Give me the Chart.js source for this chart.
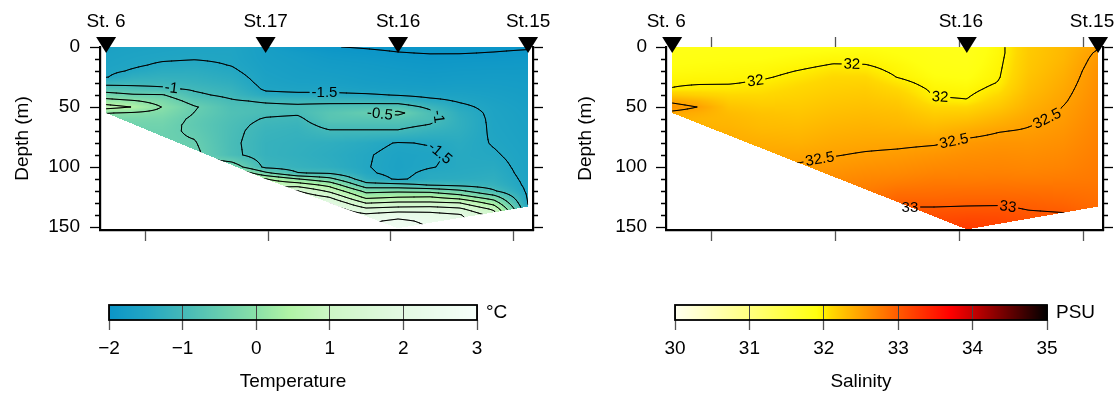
<!DOCTYPE html>
<html>
<head>
<meta charset="utf-8">
<script src="https://cdn.jsdelivr.net/npm/chart.js@4.4.0/dist/chart.umd.min.js"></script>
<style>
  body { margin: 0; background: #fff; width: 1118px; height: 394px; position: relative; overflow: hidden; }
  canvas { position: absolute; }
</style>
</head>
<body>
<canvas id="tSec" width="559" height="260" style="left:0;top:0;width:559px;height:260px"></canvas>
<canvas id="sSec" width="559" height="260" style="left:559px;top:0;width:559px;height:260px"></canvas>
<canvas id="tBar" width="559" height="104" style="left:0;top:290px;width:559px;height:104px"></canvas>
<canvas id="sBar" width="559" height="104" style="left:559px;top:290px;width:559px;height:104px"></canvas>
<script>
const FONT = "'Liberation Sans', Arial, Helvetica, sans-serif";

// section grid: distance of each profile column (km) and depth rows (m)
const colKm = [34, 45, 57, 70, 85, 99, 112, 125, 140, 153, 166, 178, 192, 206];
const rowDepth = [0, 5, 10, 15, 20, 25, 30, 35, 40, 45, 50, 55, 60, 65, 70, 80, 90, 100, 105, 110, 115, 120, 125, 130, 135, 140, 145, 150, 155];

// temperature (°C), one profile per column, values on rowDepth
const tempProfiles = [
  [-1.66,-1.64,-1.62,-1.6,-1.57,-1.52,-1.15,-0.75,-0.3,0.2,0.7,0.02,-0.25,-0.35,-0.4,-0.45,-0.45,-0.45,-0.45,-0.45,-0.45,-0.45,-0.45,-0.45,-0.45,-0.45,-0.45,-0.45,-0.45],
  [-1.63,-1.6,-1.57,-1.54,-1.47,-1.3,-1.12,-0.85,-0.45,0.05,0.48,-0.05,-0.25,-0.35,-0.4,-0.45,-0.45,-0.45,-0.45,-0.45,-0.45,-0.45,-0.45,-0.45,-0.45,-0.45,-0.45,-0.45,-0.45],
  [-1.6,-1.57,-1.53,-1.46,-1.36,-1.25,-1.12,-0.93,-0.47,-0.2,-0.02,-0.15,-0.28,-0.35,-0.4,-0.43,-0.45,-0.45,-0.45,-0.45,-0.45,-0.45,-0.45,-0.45,-0.45,-0.45,-0.45,-0.45,-0.45],
  [-1.58,-1.55,-1.51,-1.43,-1.35,-1.27,-1.18,-1.05,-0.92,-0.68,-0.46,-0.51,-0.58,-0.6,-0.57,-0.47,-0.4,-0.2,0.2,0.55,0.7,0.8,0.8,0.8,0.8,0.8,0.8,0.8,0.8],
  [-1.56,-1.55,-1.54,-1.51,-1.45,-1.38,-1.3,-1.2,-1.1,-0.95,-0.85,-0.82,-0.85,-0.88,-0.9,-0.92,-0.9,-0.2,0.6,1.02,1.2,1.3,1.3,1.3,1.3,1.3,1.3,1.3,1.3],
  [-1.72,-1.71,-1.7,-1.68,-1.66,-1.63,-1.6,-1.55,-1.4,-1.05,-0.9,-0.92,-1.03,-1.1,-1.15,-1.2,-1.2,-1.1,-0.4,0.52,0.9,1.1,1.2,1.2,1.2,1.2,1.2,1.2,1.2],
  [-1.9,-1.8,-1.76,-1.74,-1.72,-1.7,-1.66,-1.6,-1.42,-1.1,-0.92,-0.95,-1.08,-1.15,-1.2,-1.25,-1.27,-1.2,-0.98,0.02,0.8,1.52,1.9,1.98,1.98,1.98,1.98,1.98,1.98],
  [-1.99,-1.9,-1.84,-1.8,-1.76,-1.72,-1.68,-1.6,-1.42,-1.12,-0.85,-0.7,-0.72,-0.88,-1.03,-1.3,-1.35,-1.3,-1.05,-0.35,0.35,0.9,1.48,1.98,2.3,2.4,2.4,2.4,2.4],
  [-2.02,-1.95,-1.88,-1.83,-1.8,-1.77,-1.74,-1.67,-1.45,-1.15,-0.8,-0.52,-0.7,-0.88,-1.03,-1.4,-1.47,-1.48,-1.45,-1.3,-0.8,-0.15,0.35,0.98,1.6,2.1,2.4,2.52,2.55],
  [-2.05,-1.99,-1.92,-1.87,-1.83,-1.8,-1.76,-1.7,-1.52,-1.2,-0.75,-0.4,-0.7,-0.88,-1.03,-1.52,-1.6,-1.62,-1.6,-1.55,-0.85,-0.1,0.48,1.1,1.7,2.3,2.6,2.75,2.8],
  [-2.06,-2.01,-1.94,-1.9,-1.86,-1.82,-1.78,-1.72,-1.6,-1.4,-1.1,-0.88,-0.88,-1.02,-1.2,-1.48,-1.56,-1.52,-1.42,-1.38,-1.02,-0.15,0.52,1.1,1.75,2.2,2.4,2.48,2.48],
  [-2.06,-2.01,-1.93,-1.88,-1.84,-1.8,-1.76,-1.7,-1.62,-1.53,-1.42,-1.32,-1.28,-1.28,-1.3,-1.38,-1.42,-1.42,-1.4,-1.35,-1.1,-0.4,0.25,1.02,1.6,2.05,2.2,2.2,2.2],
  [-2.05,-1.99,-1.92,-1.87,-1.83,-1.79,-1.76,-1.72,-1.68,-1.64,-1.6,-1.58,-1.57,-1.56,-1.55,-1.52,-1.47,-1.4,-1.35,-1.3,-1.2,-0.95,-0.3,0.3,0.9,1.3,1.45,1.45,1.45],
  [-2.03,-1.96,-1.9,-1.86,-1.83,-1.8,-1.78,-1.76,-1.74,-1.72,-1.7,-1.68,-1.67,-1.66,-1.65,-1.63,-1.61,-1.6,-1.6,-1.58,-1.57,-1.56,-1.55,-1.52,-1.45,-1.4,-1.4,-1.4,-1.4]
];

// salinity (PSU), same layout
const salProfiles = [
  [31.85,31.86,31.88,31.9,31.92,31.95,31.985,32.005,32.2,32.45,32.6,32.45,32.4,32.4,32.4,32.4,32.4,32.4,32.4,32.4,32.4,32.4,32.4,32.4,32.4,32.4,32.4,32.4,32.4],
  [31.86,31.87,31.89,31.91,31.93,31.96,31.99,32.03,32.15,32.35,32.49,32.4,32.35,32.37,32.4,32.45,32.48,32.48,32.48,32.48,32.48,32.48,32.48,32.48,32.48,32.48,32.48,32.48,32.48],
  [31.87,31.88,31.9,31.92,31.94,31.96,31.99,32.04,32.1,32.18,32.25,32.3,32.33,32.35,32.38,32.42,32.47,32.52,32.55,32.58,32.6,32.62,32.64,32.66,32.68,32.7,32.7,32.7,32.7],
  [31.86,31.88,31.9,31.93,31.95,31.98,32.02,32.06,32.1,32.15,32.2,32.25,32.28,32.3,32.33,32.4,32.46,32.52,32.55,32.58,32.61,32.64,32.66,32.68,32.7,32.72,32.72,32.72,32.72],
  [31.87,31.9,31.93,31.96,32.005,32.04,32.08,32.11,32.14,32.17,32.2,32.23,32.26,32.29,32.32,32.38,32.46,32.52,32.56,32.6,32.63,32.66,32.68,32.7,32.72,32.74,32.74,32.74,32.74],
  [31.88,31.92,31.96,32.01,32.06,32.1,32.13,32.16,32.19,32.22,32.25,32.28,32.31,32.34,32.37,32.43,32.49,32.56,32.6,32.64,32.68,32.72,32.75,32.78,32.8,32.82,32.84,32.85,32.85],
  [31.9,31.93,31.96,32.005,32.05,32.1,32.14,32.18,32.21,32.24,32.27,32.3,32.33,32.36,32.39,32.45,32.52,32.6,32.64,32.68,32.72,32.76,32.8,32.84,32.87,32.9,32.92,32.93,32.93],
  [31.88,31.9,31.92,31.95,31.97,31.995,32.05,32.1,32.15,32.2,32.24,32.28,32.31,32.34,32.38,32.46,32.54,32.62,32.66,32.71,32.77,32.84,32.9,32.96,33.02,33.06,33.08,33.1,33.1],
  [31.84,31.85,31.86,31.87,31.89,31.91,31.94,31.97,31.99,32.03,32.1,32.17,32.23,32.29,32.35,32.48,32.58,32.66,32.7,32.75,32.8,32.85,32.9,32.96,33.02,33.08,33.13,33.16,33.18],
  [31.82,31.83,31.84,31.85,31.87,31.89,31.92,31.95,31.98,32.01,32.1,32.18,32.26,32.34,32.42,32.55,32.62,32.68,32.71,32.75,32.8,32.86,32.91,32.97,33.03,33.1,33.17,33.24,33.28],
  [31.95,31.95,31.96,31.97,31.98,31.99,32.01,32.05,32.1,32.16,32.22,32.29,32.36,32.42,32.49,32.58,32.64,32.69,32.72,32.76,32.81,32.86,32.91,32.97,33.04,33.1,33.15,33.18,33.2],
  [32.2,32.2,32.21,32.22,32.23,32.25,32.27,32.29,32.32,32.35,32.38,32.42,32.46,32.49,32.52,32.58,32.63,32.68,32.71,32.75,32.8,32.85,32.9,32.95,32.99,33.04,33.08,33.1,33.1],
  [32.32,32.33,32.34,32.36,32.38,32.4,32.42,32.44,32.46,32.48,32.505,32.52,32.54,32.56,32.58,32.62,32.66,32.7,32.73,32.76,32.8,32.84,32.88,32.92,32.97,33.02,33.05,33.05,33.05],
  [32.48,32.53,32.56,32.58,32.6,32.61,32.62,32.63,32.64,32.65,32.66,32.67,32.68,32.69,32.7,32.72,32.74,32.76,32.77,32.78,32.8,32.82,32.84,32.86,32.88,32.9,32.9,32.9,32.9]
];

// stations and sea floor
const tempStationNames = ['St. 6', 'St.17', 'St.16', 'St.15'];
const tempStationKm = [34, 99, 153, 206];
const salStationNames = ['St. 6', 'St.16', 'St.15'];
const salStationKm = [34, 153, 206];
const tempBottomKm = [34, 99, 153, 206];
const tempBottomDepth = [55, 110, 151, 133];
const salBottomKm = [34, 153, 206];
const salBottomDepth = [55, 152, 133];

// contour levels and label anchors [level, km, depth]
const tempLevels = [-2, -1.5, -1, -0.5, 0, 0.5, 1, 1.5, 2, 2.5];
const salLevels = [31.5, 32, 32.5, 33, 33.5];
const tempLabels = [[-1, 59, 34], [-1.5, 123, 38], [-0.5, 146, 54], [-1.5, 171, 85], [-1, 169.5, 58]];
const salLabels = [[32, 68, 29], [32, 106.6, 15], [32, 143.4, 43], [32.5, 93.6, 90], [32.5, 147, 80],
                   [32.5, 185.4, 58], [33, 130, 134], [33, 168, 133]];

// axes
const distTicks = [50, 100, 150, 200];
const depthTicks = [0, 50, 100, 150];
const tempBarTicks = [-2, -1, 0, 1, 2, 3];
const salBarTicks = [30, 31, 32, 33, 34, 35];

// colour scales
const tempStopValues = [-2, -1.5, -1, -0.5, 0, 0.45, 1, 2, 3];
const tempStopColors = ['#0b95c8', '#22a6c3', '#44b9b8', '#66cdb0', '#8ae0a8', '#b0f3a6', '#cdf6c6', '#e3f9e3', '#f6fffa'];
const salStopValues = [30, 31, 31.9, 32, 32.1, 32.5, 33, 33.7, 34, 35];
const salStopColors = ['#fffff0', '#ffff80', '#ffff10', '#fff200', '#ffd800', '#ffa000', '#ff5a00', '#ff0000', '#c80000', '#000000'];

function stops(values, colors) {
  return values.map((v, i) => [v, [1, 3, 5].map(k => parseInt(colors[i].slice(k, k + 2), 16))]);
}

function colorAt(st, v) {
  if (v <= st[0][0]) return st[0][1];
  for (let i = 0; i < st.length - 1; i++) {
    const [v0, c0] = st[i], [v1, c1] = st[i + 1];
    if (v <= v1) {
      const t = (v - v0) / (v1 - v0);
      return [0, 1, 2].map(k => Math.round(c0[k] + (c1[k] - c0[k]) * t));
    }
  }
  return st[st.length - 1][1];
}

function locate(arr, v) {
  if (v <= arr[0]) return [0, 0];
  for (let i = 0; i < arr.length - 1; i++) {
    if (v <= arr[i + 1]) return [i, (v - arr[i]) / (arr[i + 1] - arr[i])];
  }
  return [arr.length - 2, 1];
}

function makeField(profiles, bottomKm, bottomDepth) {
  const bottom = km => {
    const [i, t] = locate(bottomKm, km);
    return bottomDepth[i] * (1 - t) + bottomDepth[i + 1] * t;
  };
  return {
    value(km, d) {
      const [i, tx] = locate(colKm, km);
      const [j, ty] = locate(rowDepth, d);
      const a = profiles[i][j], b = profiles[i + 1][j];
      const c = profiles[i][j + 1], e = profiles[i + 1][j + 1];
      return (a * (1 - tx) + b * tx) * (1 - ty) + (c * (1 - tx) + e * tx) * ty;
    },
    inside(km, d) {
      return km >= bottomKm[0] && km <= bottomKm[bottomKm.length - 1] && d >= 0 && d <= bottom(km);
    }
  };
}

// marching squares
function contourSegments(V, gx, gy, lev) {
  const segs = [];
  const lerp = (p0, p1, v0, v1) => p0 + (p1 - p0) * (lev - v0) / (v1 - v0);
  for (let j = 0; j < gy.length - 1; j++) {
    for (let i = 0; i < gx.length - 1; i++) {
      const a = V[j][i], b = V[j][i + 1], c = V[j + 1][i + 1], d = V[j + 1][i];
      const idx = (a > lev ? 8 : 0) | (b > lev ? 4 : 0) | (c > lev ? 2 : 0) | (d > lev ? 1 : 0);
      if (idx === 0 || idx === 15) continue;
      const x0 = gx[i], x1 = gx[i + 1], y0 = gy[j], y1 = gy[j + 1];
      const T = () => [lerp(x0, x1, a, b), y0];
      const R = () => [x1, lerp(y0, y1, b, c)];
      const B = () => [lerp(x0, x1, d, c), y1];
      const L = () => [x0, lerp(y0, y1, a, d)];
      switch (idx) {
        case 1: case 14: segs.push([L(), B()]); break;
        case 2: case 13: segs.push([B(), R()]); break;
        case 3: case 12: segs.push([L(), R()]); break;
        case 4: case 11: segs.push([T(), R()]); break;
        case 6: case 9: segs.push([T(), B()]); break;
        case 7: case 8: segs.push([L(), T()]); break;
        default: {
          const hi = (a + b + c + d) / 4 > lev;
          if ((idx === 5) === hi) { segs.push([L(), T()]); segs.push([B(), R()]); }
          else { segs.push([T(), R()]); segs.push([L(), B()]); }
        }
      }
    }
  }
  return segs;
}

function sectionPlugin(cfg) {
  return {
    id: 'section',
    beforeDatasetsDraw(chart) {
      const { ctx, chartArea: ca } = chart;
      const xs = chart.scales.x, ys = chart.scales.y;
      const f = cfg.field;
      const F = (px, py) => f.value(xs.getValueForPixel(px), ys.getValueForPixel(py));

      // filled field
      const x0 = Math.floor(ca.left), y0 = Math.floor(ca.top);
      const w = Math.ceil(ca.right) - x0, h = Math.ceil(ca.bottom) - y0;
      const img = ctx.createImageData(w, h);
      for (let j = 0; j < h; j++) {
        const d = ys.getValueForPixel(y0 + j + 0.5);
        for (let i = 0; i < w; i++) {
          const km = xs.getValueForPixel(x0 + i + 0.5);
          if (!f.inside(km, d)) continue;
          const c = colorAt(cfg.colors, f.value(km, d));
          const k = (j * w + i) * 4;
          img.data[k] = c[0]; img.data[k + 1] = c[1]; img.data[k + 2] = c[2]; img.data[k + 3] = 255;
        }
      }
      const off = document.createElement('canvas');
      off.width = w; off.height = h;
      off.getContext('2d').putImageData(img, 0, 0);
      ctx.drawImage(off, x0, y0);

      // label positions: nearest point on the contour to each anchor
      ctx.font = '15px ' + FONT;
      const placed = cfg.labels.map(([lev, km, dep]) => {
        const cx = xs.getPixelForValue(km), cy = ys.getPixelForValue(dep);
        let best = null;
        for (let dy = -14; dy <= 14; dy++) {
          for (let dx = -14; dx <= 14; dx++) {
            const px = cx + dx, py = cy + dy;
            const v = F(px, py);
            const gxv = (F(px + 1, py) - F(px - 1, py)) / 2;
            const gyv = (F(px, py + 1) - F(px, py - 1)) / 2;
            const g2 = gxv * gxv + gyv * gyv || 1e-12;
            const s = Math.abs(v - lev) / Math.sqrt(g2) + 0.08 * Math.hypot(dx, dy);
            if (!best || s < best.s) best = { s, x: px - (v - lev) * gxv / g2, y: py - (v - lev) * gyv / g2, gxv, gyv };
          }
        }
        let a = Math.atan2(best.gyv, best.gxv) + Math.PI / 2;
        while (a > Math.PI / 2) a -= Math.PI;
        while (a < -Math.PI / 2) a += Math.PI;
        const text = String(lev);
        return { text, x: best.x, y: best.y, a, tw: ctx.measureText(text).width };
      });

      // contour lines, clipped to the section and broken at the labels
      const step = 2, gx = [], gy = [];
      for (let p = ca.left; p <= ca.right + 0.01; p += step) gx.push(p);
      for (let p = ca.top; p <= ca.bottom + 0.01; p += step) gy.push(p);
      const V = gy.map(py => gx.map(px => F(px, py)));

      ctx.save();
      ctx.beginPath();
      const n = cfg.bottomKm.length;
      ctx.moveTo(xs.getPixelForValue(cfg.bottomKm[0]), ys.getPixelForValue(0));
      ctx.lineTo(xs.getPixelForValue(cfg.bottomKm[n - 1]), ys.getPixelForValue(0));
      for (let i = n - 1; i >= 0; i--) {
        ctx.lineTo(xs.getPixelForValue(cfg.bottomKm[i]), ys.getPixelForValue(cfg.bottomDepth[i]));
      }
      ctx.closePath();
      ctx.clip();
      ctx.beginPath();
      ctx.rect(ca.left - 2, ca.top - 2, ca.right - ca.left + 4, ca.bottom - ca.top + 4);
      placed.forEach(L => {
        const c = Math.cos(L.a), s = Math.sin(L.a), hw = L.tw / 2 + 2, hh = 7;
        const pts = [[-hw, -hh], [hw, -hh], [hw, hh], [-hw, hh]].map(([u, v]) => [L.x + u * c - v * s, L.y + u * s + v * c]);
        ctx.moveTo(pts[0][0], pts[0][1]);
        for (let k = 1; k < 4; k++) ctx.lineTo(pts[k][0], pts[k][1]);
        ctx.closePath();
      });
      ctx.clip('evenodd');
      ctx.strokeStyle = '#000';
      ctx.lineWidth = 1;
      ctx.lineCap = 'round';
      cfg.levels.forEach(lev => {
        ctx.beginPath();
        contourSegments(V, gx, gy, lev).forEach(([p, q]) => { ctx.moveTo(p[0], p[1]); ctx.lineTo(q[0], q[1]); });
        ctx.stroke();
      });
      ctx.restore();

      ctx.save();
      ctx.fillStyle = '#000';
      ctx.font = '15px ' + FONT;
      ctx.textAlign = 'center';
      ctx.textBaseline = 'middle';
      placed.forEach(L => {
        ctx.save();
        ctx.translate(L.x, L.y);
        ctx.rotate(L.a);
        ctx.fillText(L.text, 0, 0.5);
        ctx.restore();
      });
      ctx.restore();
    },
    afterDraw(chart) {
      const { ctx, chartArea: ca } = chart;
      const xs = chart.scales.x, ys = chart.scales.y;
      ctx.save();
      // minor depth ticks
      ctx.strokeStyle = '#000';
      ctx.lineWidth = 1.3;
      for (let d = 10; d < ys.max; d += 10) {
        if (d % 50 === 0) continue;
        const py = Math.round(ys.getPixelForValue(d)) + 0.5;
        ctx.beginPath();
        ctx.moveTo(ca.left - 5, py); ctx.lineTo(ca.left, py);
        ctx.moveTo(ca.right, py); ctx.lineTo(ca.right + 5, py);
        ctx.stroke();
      }
      // station markers
      ctx.fillStyle = '#000';
      ctx.font = '19px ' + FONT;
      ctx.textAlign = 'center';
      ctx.textBaseline = 'middle';
      cfg.stationKm.forEach((km, i) => {
        const px = xs.getPixelForValue(km);
        ctx.beginPath();
        ctx.moveTo(px - 10, ca.top - 10);
        ctx.lineTo(px + 10, ca.top - 10);
        ctx.lineTo(px, ca.top + 6);
        ctx.closePath();
        ctx.fill();
        ctx.fillText(cfg.stationNames[i], px + cfg.labelShift, ca.top - 25);
      });
      ctx.restore();
    }
  };
}

function sectionChart(id, o) {
  const tickFont = { family: FONT, size: 19 };
  const scales = {
    x: {
      type: 'linear', min: 31.5, max: 208, position: 'bottom',
      afterBuildTicks: s => { s.ticks = distTicks.map(v => ({ value: v })); },
      ticks: { display: false },
      grid: { drawOnChartArea: false, tickLength: 11, tickColor: '#555', tickWidth: 1.3 },
      border: { color: '#000', width: 2.2 },
      afterFit: s => { s.height = 30; }
    },
    y: {
      type: 'linear', reverse: true, min: 0, max: 152.5, position: 'left',
      afterBuildTicks: s => { s.ticks = depthTicks.map(v => ({ value: v })); },
      ticks: { color: '#000', font: tickFont, padding: o.tickPad },
      grid: { drawOnChartArea: false, tickLength: 10, tickColor: '#000', tickWidth: 1.3 },
      border: { color: '#000', width: 2.2 },
      title: { display: true, text: 'Depth (m)', color: '#000', font: tickFont, padding: { top: o.titlePad, bottom: 0 } },
      afterFit: s => { s.width = o.left; }
    },
    y2: {
      type: 'linear', reverse: true, min: 0, max: 152.5, position: 'right',
      afterBuildTicks: s => { s.ticks = depthTicks.map(v => ({ value: v })); },
      ticks: { display: false },
      grid: { drawOnChartArea: false, tickLength: 10, tickColor: '#000', tickWidth: 1.3 },
      border: { color: '#000', width: 2.2 },
      afterFit: s => { s.width = o.right; }
    }
  };
  if (o.topTicks) {
    scales.x2 = {
      type: 'linear', min: 31.5, max: 208, position: 'top',
      afterBuildTicks: s => { s.ticks = distTicks.map(v => ({ value: v })); },
      ticks: { display: false },
      grid: { drawOnChartArea: false, tickLength: 10, tickColor: '#555', tickWidth: 1.3 },
      border: { display: false },
      afterFit: s => { s.height = 47; }
    };
  }
  new Chart(document.getElementById(id), {
    type: 'scatter',
    data: { datasets: [] },
    options: {
      responsive: false, animation: false, events: [],
      layout: { padding: { top: o.topTicks ? 0 : 47, left: 0, right: 0, bottom: 0 } },
      plugins: { legend: { display: false }, tooltip: { enabled: false } },
      scales
    },
    plugins: [sectionPlugin(o)]
  });
}

function barPlugin(cfg) {
  return {
    id: 'cbar',
    beforeDraw(chart) {
      const { ctx, chartArea: ca } = chart;
      const xs = chart.scales.x;
      for (let px = Math.floor(ca.left); px < Math.ceil(ca.right); px++) {
        const c = colorAt(cfg.colors, xs.getValueForPixel(px + 0.5));
        ctx.fillStyle = 'rgb(' + c.join(',') + ')';
        ctx.fillRect(px, ca.top, 1, ca.bottom - ca.top);
      }
    },
    afterDraw(chart) {
      const { ctx, chartArea: ca } = chart;
      ctx.save();
      ctx.strokeStyle = '#000';
      ctx.lineWidth = 1.8;
      ctx.strokeRect(ca.left, ca.top, ca.right - ca.left, ca.bottom - ca.top);
      ctx.fillStyle = '#000';
      ctx.font = '19px ' + FONT;
      ctx.textAlign = 'left';
      ctx.textBaseline = 'middle';
      ctx.fillText(cfg.unit, ca.right + 9, (ca.top + ca.bottom) / 2);
      ctx.restore();
    }
  };
}

function barChart(id, o) {
  const font = { family: FONT, size: 19 };
  new Chart(document.getElementById(id), {
    type: 'scatter',
    data: { datasets: [] },
    options: {
      responsive: false, animation: false, events: [],
      layout: { padding: { left: o.left, right: o.right, top: 15, bottom: 0 } },
      plugins: { legend: { display: false }, tooltip: { enabled: false } },
      scales: {
        x: {
          type: 'linear', min: o.ticks[0], max: o.ticks[o.ticks.length - 1], position: 'bottom',
          afterBuildTicks: s => { s.ticks = o.ticks.map(v => ({ value: v })); },
          ticks: { color: '#000', font, padding: 7, maxRotation: 0, autoSkip: false,
                   callback: v => String(v).replace('-', '\u2212') },
          grid: { drawOnChartArea: true, color: '#444', lineWidth: 1, tickLength: 10, tickColor: '#555', tickWidth: 1.3 },
          border: { display: false },
          title: { display: true, text: o.title, color: '#000', font, padding: { top: 0, bottom: 1 } },
          afterFit: s => { s.height = 74; }
        },
        y: { display: false, min: 0, max: 1 }
      }
    },
    plugins: [barPlugin(o)]
  });
}

const tempStops = stops(tempStopValues, tempStopColors);
const salStops = stops(salStopValues, salStopColors);

sectionChart('tSec', {
  field: makeField(tempProfiles, tempBottomKm, tempBottomDepth),
  colors: tempStops, levels: tempLevels, labels: tempLabels,
  stationKm: tempStationKm, stationNames: tempStationNames,
  bottomKm: tempBottomKm, bottomDepth: tempBottomDepth,
  left: 100, right: 26, tickPad: 10, titlePad: 11, topTicks: false, labelShift: 0
});
sectionChart('sSec', {
  field: makeField(salProfiles, salBottomKm, salBottomDepth),
  colors: salStops, levels: salLevels, labels: salLabels,
  stationKm: salStationKm, stationNames: salStationNames,
  bottomKm: salBottomKm, bottomDepth: salBottomDepth,
  left: 107, right: 15, tickPad: 9, titlePad: 15, topTicks: true, labelShift: -6
});
barChart('tBar', { ticks: tempBarTicks, colors: tempStops, title: 'Temperature', unit: '°C', left: 109, right: 82 });
barChart('sBar', { ticks: salBarTicks, colors: salStops, title: 'Salinity', unit: 'PSU', left: 116, right: 71 });
</script>
</body>
</html>
